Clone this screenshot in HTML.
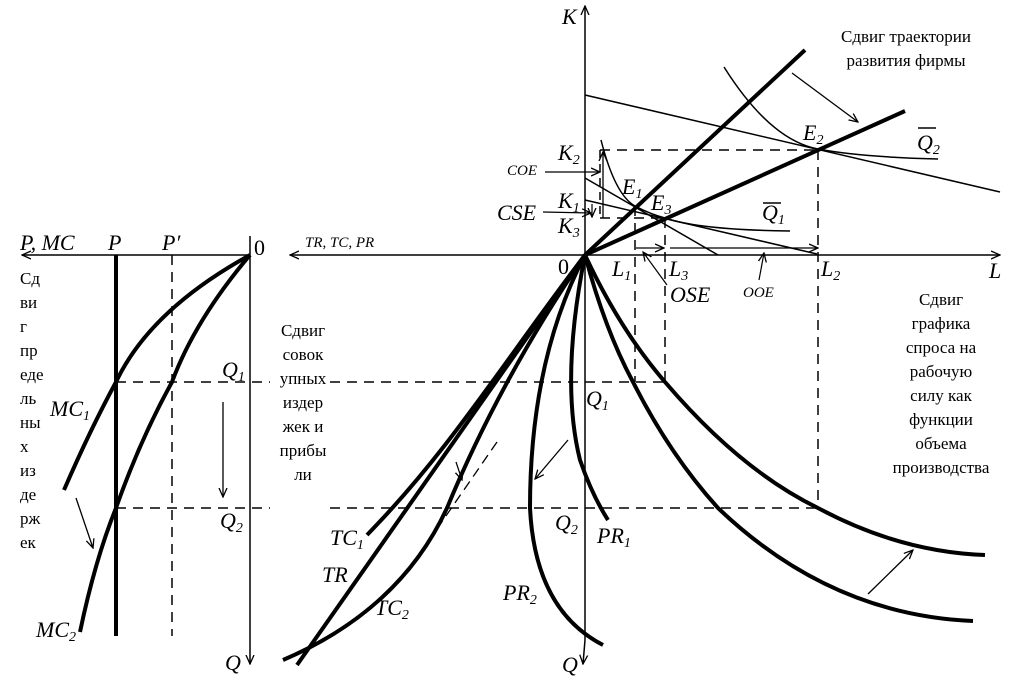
<!DOCTYPE html>
<html><head><meta charset="utf-8"><style>
html,body{margin:0;padding:0;background:#fff}
svg{display:block}
text{font-family:"Liberation Serif",serif;fill:#000}
.i{font-style:italic}
</style></head><body>
<svg width="1024" height="686" viewBox="0 0 1024 686" xmlns="http://www.w3.org/2000/svg">
<defs><marker id="a" markerWidth="10" markerHeight="10" refX="9" refY="5" orient="auto" markerUnits="userSpaceOnUse"><path d="M0,1 L9,5 L0,9" fill="none" stroke="#000" stroke-width="1.3"/></marker></defs>
<g fill="none" stroke="#000">
<line x1="250" y1="255" x2="22" y2="255" stroke-width="1.5" marker-end="url(#a)"/>
<line x1="250" y1="236" x2="250" y2="664" stroke-width="1.5" marker-end="url(#a)"/>
<line x1="116" y1="255" x2="116" y2="636" stroke-width="4"/>
<line x1="172" y1="255" x2="172" y2="636" stroke-width="1.5" stroke-dasharray="10,7"/>
<path d="M250,255 Q150,310 116,382 Q90,430 64,490" stroke-width="4"/>
<path d="M250,255 Q195,320 172,382 Q140,440 116,508 Q95,560 80,632" stroke-width="4"/>
<line x1="76" y1="498" x2="93" y2="548" stroke-width="1.3" marker-end="url(#a)"/>
<line x1="223" y1="402" x2="223" y2="497" stroke-width="1.3" marker-end="url(#a)"/>
<line x1="116" y1="382" x2="270" y2="382" stroke-width="1.5" stroke-dasharray="10,7"/>
<line x1="116" y1="508" x2="270" y2="508" stroke-width="1.5" stroke-dasharray="10,7"/>
<line x1="585" y1="640" x2="585" y2="6" stroke-width="1.5" marker-end="url(#a)"/>
<line x1="585" y1="640" x2="583" y2="664" stroke-width="1.5" marker-end="url(#a)"/>
<line x1="585" y1="255" x2="290" y2="255" stroke-width="1.5" marker-end="url(#a)"/>
<line x1="585" y1="255" x2="1000" y2="255" stroke-width="1.5" marker-end="url(#a)"/>
<line x1="330" y1="382" x2="665" y2="382" stroke-width="1.5" stroke-dasharray="10,7"/>
<line x1="330" y1="508" x2="818" y2="508" stroke-width="1.5" stroke-dasharray="10,7"/>
<line x1="600" y1="150" x2="818" y2="150" stroke-width="1.5" stroke-dasharray="10,7"/>
<line x1="818" y1="150" x2="818" y2="508" stroke-width="1.5" stroke-dasharray="10,7"/>
<line x1="600" y1="218" x2="665" y2="218" stroke-width="1.5" stroke-dasharray="10,7"/>
<line x1="635" y1="206" x2="635" y2="382" stroke-width="1.5" stroke-dasharray="10,7"/>
<line x1="665" y1="218" x2="665" y2="382" stroke-width="1.5" stroke-dasharray="10,7"/>
<line x1="600" y1="150" x2="600" y2="218" stroke-width="1.5" stroke-dasharray="8,6"/>
<line x1="585" y1="95" x2="1000" y2="192" stroke-width="1.5"/>
<line x1="585" y1="178" x2="718" y2="255" stroke-width="1.5"/>
<line x1="585" y1="200" x2="817" y2="254" stroke-width="1.5"/>
<path d="M601,140 Q615,195 635,206 Q650,214 665,218 Q700,230 790,231" stroke-width="1.5"/>
<path d="M724,67 Q770,140 818,149 Q860,157 938,159" stroke-width="1.5"/>
<line x1="585" y1="255" x2="805" y2="50" stroke-width="4"/>
<line x1="585" y1="255" x2="905" y2="111" stroke-width="4"/>
<line x1="792" y1="73" x2="858" y2="122" stroke-width="1.3" marker-end="url(#a)"/>
<line x1="603" y1="218" x2="603" y2="152" stroke-width="1.3" marker-end="url(#a)"/>
<line x1="545" y1="172" x2="600" y2="172" stroke-width="1.3" marker-end="url(#a)"/>
<line x1="543" y1="212" x2="591" y2="213" stroke-width="1.3" marker-end="url(#a)"/>
<line x1="592" y1="204" x2="592" y2="217" stroke-width="1.2" marker-end="url(#a)"/>
<line x1="636" y1="248" x2="664" y2="248" stroke-width="1.3" marker-end="url(#a)"/>
<line x1="670" y1="248" x2="818" y2="248" stroke-width="1.3" marker-end="url(#a)"/>
<line x1="667" y1="285" x2="643" y2="252" stroke-width="1.2" marker-end="url(#a)"/>
<line x1="759" y1="280" x2="764" y2="253" stroke-width="1.2" marker-end="url(#a)"/>
<path d="M585,255 Q620,330 665,382 Q740,470 818,508 Q900,552 985,555" stroke-width="4"/>
<path d="M585,255 Q605,330 633,382 Q670,455 718,508 Q830,615 973,621" stroke-width="4"/>
<line x1="868" y1="594" x2="913" y2="550" stroke-width="1.3" marker-end="url(#a)"/>
<path d="M585,255 Q560,380 580,460 Q592,495 608,520" stroke-width="4"/>
<path d="M585,255 Q530,360 530,508 Q535,610 603,645" stroke-width="4"/>
<line x1="568" y1="440" x2="535" y2="479" stroke-width="1.3" marker-end="url(#a)"/>
<path d="M585,255 C505,360 450,450 367,535" stroke-width="4"/>
<line x1="585" y1="255" x2="297" y2="665" stroke-width="4"/>
<path d="M585,255 Q500,380 447,508 Q400,610 283,660" stroke-width="4"/>
<line x1="497" y1="442" x2="410" y2="568" stroke-width="1.3" stroke-dasharray="10,6"/>
<line x1="456" y1="462" x2="462" y2="480" stroke-width="1.2" marker-end="url(#a)"/>
</g>
<g font-size="22" class="i">
<text x="20" y="250">P, MC</text>
<text x="108" y="250">P</text>
<text x="162" y="250">P′</text>
<text x="254" y="255" font-style="normal">0</text>
<text x="50" y="416">MC<tspan font-size="14" dy="4">1</tspan></text>
<text x="36" y="637">MC<tspan font-size="14" dy="4">2</tspan></text>
<text x="222" y="377">Q<tspan font-size="14" dy="4">1</tspan></text>
<text x="220" y="528">Q<tspan font-size="14" dy="4">2</tspan></text>
<text x="225" y="670">Q</text>
<text x="562" y="24">K</text>
<text x="558" y="160">K<tspan font-size="14" dy="4">2</tspan></text>
<text x="558" y="208">K<tspan font-size="14" dy="4">1</tspan></text>
<text x="558" y="233">K<tspan font-size="14" dy="4">3</tspan></text>
<text x="497" y="220">CSE</text>
<text x="622" y="194">E<tspan font-size="14" dy="4">1</tspan></text>
<text x="651" y="210">E<tspan font-size="14" dy="4">3</tspan></text>
<text x="803" y="140">E<tspan font-size="14" dy="4">2</tspan></text>
<text x="762" y="220">Q<tspan font-size="14" dy="4">1</tspan></text>
<text x="917" y="150">Q<tspan font-size="14" dy="4">2</tspan></text>
<text x="558" y="274" font-style="normal">0</text>
<text x="612" y="276">L<tspan font-size="14" dy="4">1</tspan></text>
<text x="669" y="276">L<tspan font-size="14" dy="4">3</tspan></text>
<text x="821" y="276">L<tspan font-size="14" dy="4">2</tspan></text>
<text x="989" y="278">L</text>
<text x="670" y="302">OSE</text>
<text x="586" y="406">Q<tspan font-size="14" dy="4">1</tspan></text>
<text x="555" y="530">Q<tspan font-size="14" dy="4">2</tspan></text>
<text x="597" y="543">PR<tspan font-size="14" dy="4">1</tspan></text>
<text x="503" y="600">PR<tspan font-size="14" dy="4">2</tspan></text>
<text x="330" y="545">TC<tspan font-size="14" dy="4">1</tspan></text>
<text x="322" y="582">TR</text>
<text x="375" y="615">TC<tspan font-size="14" dy="4">2</tspan></text>
<text x="562" y="672">Q</text>
</g>
<g font-size="15" class="i">
<text x="507" y="175">COE</text>
<text x="743" y="297">OOE</text>
<text x="305" y="247">TR, TC, PR</text>
</g>
<g font-size="17" text-anchor="middle">
<text x="906" y="42">Сдвиг траектории</text>
<text x="906" y="66">развития фирмы</text>
<text x="941" y="305">Сдвиг</text>
<text x="941" y="329">графика</text>
<text x="941" y="353">спроса на</text>
<text x="941" y="377">рабочую</text>
<text x="941" y="401">силу как</text>
<text x="941" y="425">функции</text>
<text x="941" y="449">объема</text>
<text x="941" y="473">производства</text>
<text x="303" y="336">Сдвиг</text>
<text x="303" y="360">совок</text>
<text x="303" y="384">упных</text>
<text x="303" y="408">издер</text>
<text x="303" y="432">жек и</text>
<text x="303" y="456">прибы</text>
<text x="303" y="480">ли</text>
</g>
<g font-size="17">
<text x="20" y="284">Сд</text>
<text x="20" y="308">ви</text>
<text x="20" y="332">г</text>
<text x="20" y="356">пр</text>
<text x="20" y="380">еде</text>
<text x="20" y="404">ль</text>
<text x="20" y="428">ны</text>
<text x="20" y="452">х</text>
<text x="20" y="476">из</text>
<text x="20" y="500">де</text>
<text x="20" y="524">рж</text>
<text x="20" y="548">ек</text>
</g>
<g stroke="#000" stroke-width="1.5">
<line x1="763" y1="203" x2="781" y2="203"/>
<line x1="918" y1="128" x2="936" y2="128"/>
</g>
</svg>
</body></html>
